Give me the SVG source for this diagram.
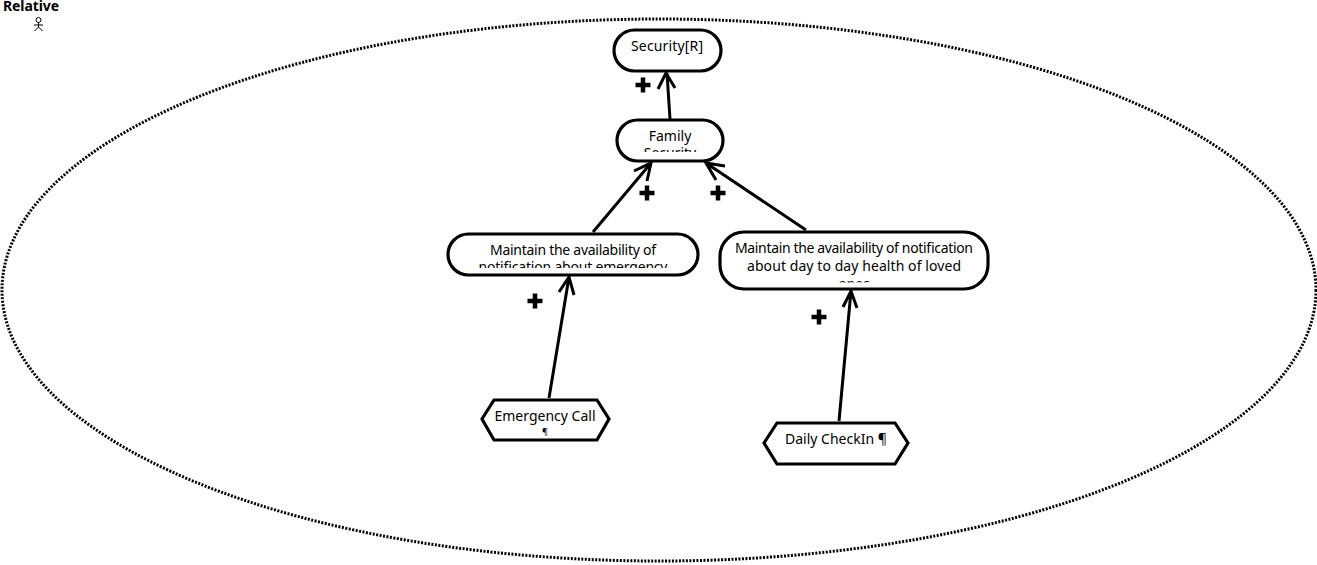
<svg xmlns="http://www.w3.org/2000/svg" width="1317" height="565" viewBox="0 0 1317 565">
<style>
text{font-family:"Noto Sans","DejaVu Sans",sans-serif;font-size:14px;fill:#000;text-anchor:middle}
.shape{fill:#fff;stroke:#000;stroke-width:3.200}
.link{fill:none;stroke:#000;stroke-width:3}
.pl{fill:none;stroke:#000;stroke-width:4.500}
</style>
<defs>
<clipPath id="c1"><rect x="616" y="124" width="108" height="28"/></clipPath>
<clipPath id="c2"><rect x="450" y="236" width="246" height="32"/></clipPath>
<clipPath id="c3"><rect x="722" y="234" width="264" height="48.500"/></clipPath>
<path id="plus" class="pl" d="M-7.500 0H7.500M0-7.500V7.500"/>
</defs>
<g id="boundary"><ellipse cx="659" cy="290" rx="657" ry="271" fill="#fff" stroke="#000" stroke-width="3" stroke-dasharray="2 1.500"/></g>
<g id="actor">
<text x="31" y="11" style="font-weight:700;font-size:14px" textLength="56">Relative</text>
<g fill="none" stroke="#000" stroke-width="1">
<circle cx="38.500" cy="20" r="2.500"/>
<path d="M38.500 22.500V27M34 25H43M38.500 27L34.500 31M38.500 27L42.500 31"/>
</g>
</g>
<g id="connectors">
<path class="link" d="M670 119L667 73M658 89L666 73L675 88"/>
<path class="link" d="M593 232L651 163M634 171L651 163L647 181"/>
<path class="link" d="M806 230L706 163M716 180L706 163L725 166"/>
<path class="link" d="M549 398L569 277M559 292L569 277L574 295"/>
<path class="link" d="M839 421L851 291M843 307L851 291L857 308"/>
</g>
<g id="plus-marks">
<use href="#plus" x="643" y="85"/>
<use href="#plus" x="647" y="193"/>
<use href="#plus" x="718" y="193"/>
<use href="#plus" x="535" y="301"/>
<use href="#plus" x="819" y="317"/>
</g>
<g id="n-security"><rect class="shape" x="614" y="30" width="107" height="41" rx="20.500"/><text x="667" y="51" textLength="72">Security[R]</text></g>
<g id="n-family"><rect class="shape" x="617" y="120" width="106" height="41" rx="20.500"/><g clip-path="url(#c1)"><text x="670" y="141">Family</text><text x="670" y="158">Security</text></g></g>
<g id="n-emergency-goal"><rect class="shape" x="448" y="234" width="250" height="41" rx="20.500"/><g clip-path="url(#c2)"><text x="573" y="255" textLength="166">Maintain the availability of</text><text x="573" y="272" textLength="189">notification about emergency</text></g></g>
<g id="n-daily-goal"><rect class="shape" x="720" y="232" width="268" height="57" rx="24"/><g clip-path="url(#c3)"><text x="854" y="253" textLength="238">Maintain the availability of notification</text><text x="854" y="271" textLength="214">about day to day health of loved</text><text x="854" y="289">ones</text></g></g>
<g id="n-emergency-call"><path class="shape" d="M482 419L494 400H597L609 419L597 440H494Z"/><text x="545" y="421">Emergency Call</text><text x="545" y="435" style="font-size:9px">¶</text></g>
<g id="n-daily-checkin"><path class="shape" d="M764 443L777 423H895L908 443L895 464H777Z"/><text x="836" y="444">Daily CheckIn ¶</text></g>
</svg>
